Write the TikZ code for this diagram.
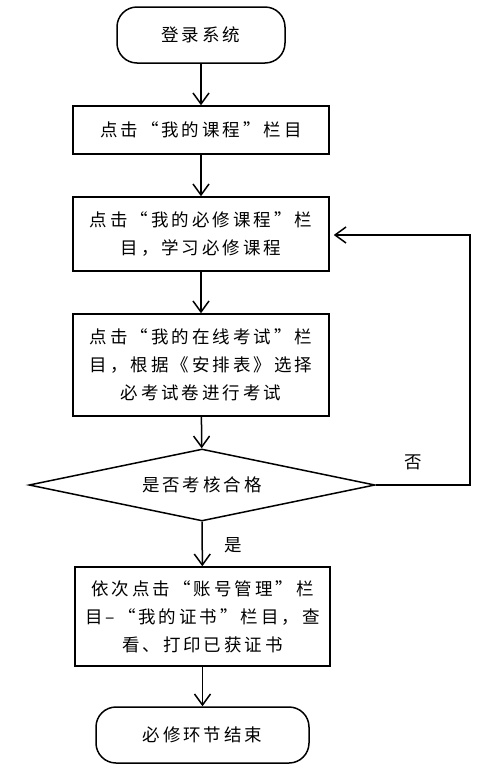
\documentclass[tikz,border=0pt]{standalone}
\usepackage{fontspec}
\setmainfont{Noto Sans CJK SC}[LetterSpace=17]
\usetikzlibrary{shapes.geometric,arrows.meta}
\begin{document}
\begin{tikzpicture}[x=1pt,y=-1pt,
  every node/.style={font=\fontsize{17.5}{28}\selectfont, align=center, inner sep=0pt},
  term/.style={draw, line width=1.5pt, rounded corners=20pt},
  proc/.style={draw, line width=1.5pt},
  dec/.style={draw, line width=1.5pt, diamond, aspect=4.8, minimum width=346pt, minimum height=72pt},
  flow/.style={line width=1.5pt, -{Straight Barb[length=11pt,width=16pt,line width=1.5pt]}},
  lbl/.style={font=\fontsize{17.5}{20}\selectfont}]
\useasboundingbox (0,0) rectangle (496,774);
\node[term, minimum width=168pt, minimum height=56pt] (start) at (201,35) {登录系统};
\node[proc, minimum width=256pt, minimum height=48pt] (b1) at (201,130) {点击“我的课程”栏目};
\node[proc, minimum width=256pt, minimum height=74pt] (b2) at (201,234) {点击“我的必修课程”栏\\目，学习必修课程};
\node[proc, minimum width=256pt, minimum height=102pt] (b3) at (201,365) {点击“我的在线考试”栏\\目，根据《安排表》选择\\必考试卷进行考试};
\node[dec] (dia) at (202,485) {是否考核合格};
\node[proc, minimum width=255pt, minimum height=99pt] (b4) at (202.5,616.5) {依次点击“账号管理”栏\\目–“我的证书”栏目，查\\看、打印已获证书};
\node[term, minimum width=213pt, minimum height=56pt] (end) at (202.5,735) {必修环节结束};
\coordinate (c1) at (470,485);
\coordinate (c2) at (470,235);
\draw[flow] (start) -- (b1);
\draw[flow] (b1) -- (b2);
\draw[flow] (b2) -- (b3);
\draw[flow] (b3) -- (dia);
\draw[flow] (dia) -- (b4);
\draw[flow] (b4) -- (end);
\draw[flow, shorten >=4pt] (dia.east) -- (c1) -- (c2) -- (b2.east |- c2);
\node[lbl] (yes) at (233,545) {是};
\node[lbl] (no) at (413,462) {否};
\end{tikzpicture}
\end{document}
